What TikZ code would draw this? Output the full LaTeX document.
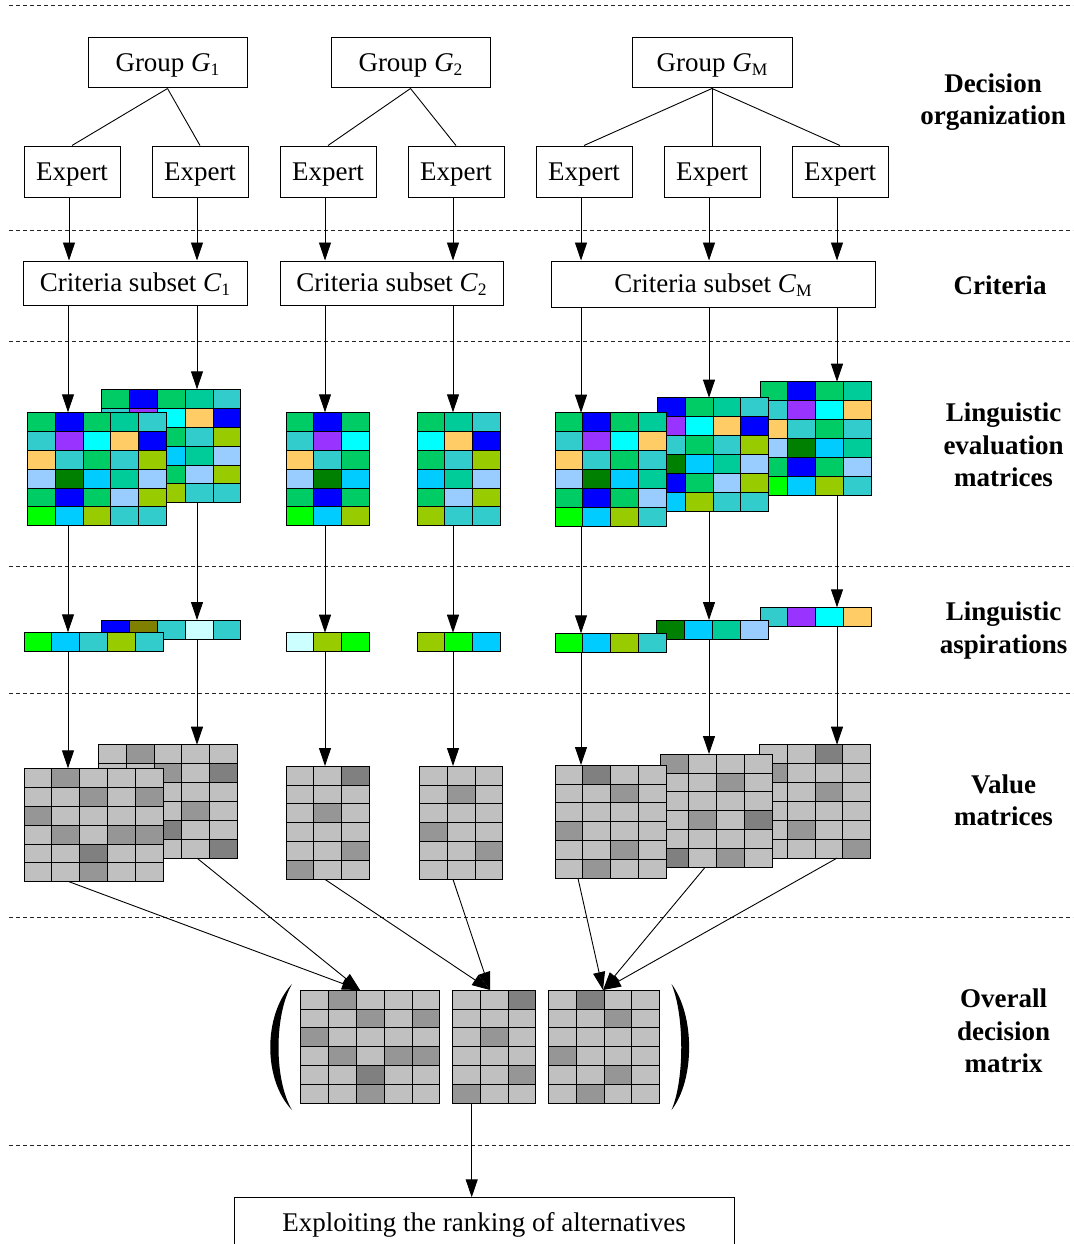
\documentclass[tikz,border=0pt]{standalone}
\usepackage{fontspec}
\setmainfont{Liberation Serif}
\usetikzlibrary{arrows.meta}
\definecolor{cG}{HTML}{00CC66}
\definecolor{cB}{HTML}{0000FF}
\definecolor{cT}{HTML}{00CC99}
\definecolor{cQ}{HTML}{33CCCC}
\definecolor{cP}{HTML}{9933FF}
\definecolor{cC}{HTML}{00FFFF}
\definecolor{cO}{HTML}{FFCC66}
\definecolor{cY}{HTML}{99CC00}
\definecolor{cL}{HTML}{99CCFF}
\definecolor{cD}{HTML}{008000}
\definecolor{cS}{HTML}{00CCFF}
\definecolor{cE}{HTML}{00FF00}
\definecolor{cV}{HTML}{808000}
\definecolor{cW}{HTML}{CCFFFF}
\definecolor{gL}{HTML}{C0C0C0}
\definecolor{gM}{HTML}{969696}
\definecolor{gD}{HTML}{808080}
\newcommand{\sbs}[1]{\raisebox{-0.3ex}{\fontsize{17.5}{17.5}\selectfont #1}}
\newcommand{\cgrid}[3]{%
  \foreach \myrow [count=\ri from 0] in {#3} {%
    \foreach \mycol [count=\ci from 0] in \myrow {%
      \filldraw[fill=\mycol, cellline] ({#1+\ci*27.8},{#2+\ri*18.9}) rectangle ++(27.8,18.9);
    }%
  }%
}
\tikzset{
  box/.style={draw, line width=1pt, inner sep=0pt, text height=17.8pt, text depth=0pt, font=\fontsize{27}{30}\selectfont},
  arr/.style={line width=0.9pt, -{Triangle[length=18pt,width=12pt]}},
  link/.style={line width=0.9pt},
  sep/.style={line width=0.8pt, dash pattern=on 4pt off 3pt, black!85},
  lab/.style={font=\fontsize{27}{32.5}\selectfont\bfseries, align=center},
  cellline/.style={draw=black, line width=0.8pt},
}
\begin{document}
\begin{tikzpicture}[x=1pt,y=-1pt]
\clip (0,0) rectangle (1073,1244);
\fill[white] (0,0) rectangle (1073,1244);
% separators
\foreach \yy in {5,230,341,566,693,917,1145} \draw[sep] (9,\yy) -- (1073,\yy);
% right labels
\node[lab] (l1) at (993,102) {Decision\\organization};
\node[lab] (l2) at (1000,285) {Criteria};
\node[lab] (l3) at (1003.5,445) {Linguistic\\evaluation\\matrices};
\node[lab] (l4) at (1003.5,630.5) {Linguistic\\aspirations};
\node[lab] (l5) at (1003.5,800.5) {Value\\matrices};
\node[lab] (l6) at (1003.5,1031) {Overall\\decision\\matrix};
% groups
\node[box, minimum width=159pt, minimum height=50pt] (g1) at (167.5,63) {Group \textit{G}\sbs{1}};
\node[box, minimum width=159pt, minimum height=50pt] (g2) at (410.5,63) {Group \textit{G}\sbs{2}};
\node[box, minimum width=160pt, minimum height=50pt] (g3) at (712,63) {Group \textit{G}\sbs{M}};
% experts
\foreach \i/\xx in {1/72,2/200,3/328,4/456,5/584,6/712,7/840}
  \node[box, minimum width=96pt, minimum height=51pt] (e\i) at (\xx,171.5) {Expert};
\draw[link] (g1.south) -- (e1.north);
\draw[link] (g1.south) -- (e2.north);
\draw[link] (g2.south) -- (e3.north);
\draw[link] (g2.south) -- (e4.north);
\draw[link] (g3.south) -- (e5.north);
\draw[link] (g3.south) -- (e6.north);
\draw[link] (g3.south) -- (e7.north);
% criteria
\node[box, minimum width=224pt, minimum height=44pt] (c1) at (135,283) {Criteria subset \textit{C}\sbs{1}};
\node[box, minimum width=223pt, minimum height=44pt] (c2) at (391.5,283) {Criteria subset \textit{C}\sbs{2}};
\node[box, minimum width=324pt, minimum height=46pt] (c3) at (713,284) {Criteria subset \textit{C}\sbs{M}};
\foreach \i/\c in {1/c1,2/c1,3/c2,4/c2,5/c3,6/c3,7/c3}
  \draw[arr] ([xshift=-3pt]e\i.south) -- ([xshift=-3pt]e\i.south |- \c.north);
% coordinates
\coordinate (m1t) at (68,412.3);  \coordinate (m1b) at (68,525.7);
\coordinate (m2t) at (197,389.3); \coordinate (m2b) at (197,502.7);
\coordinate (m3t) at (325,412.3); \coordinate (m3b) at (325,525.7);
\coordinate (m4t) at (453,412.3); \coordinate (m4b) at (453,525.7);
\coordinate (m5t) at (581,412.7); \coordinate (m5b) at (581,526.1);
\coordinate (m6t) at (709,397.7); \coordinate (m6b) at (709,511.1);
\coordinate (m7t) at (837,381.7); \coordinate (m7b) at (837,495.1);
\coordinate (a1t) at (68,632.3);  \coordinate (a1b) at (68,651.2);
\coordinate (a2t) at (197,620);   \coordinate (a2b) at (197,638.9);
\coordinate (a3t) at (325,632.7); \coordinate (a3b) at (325,651.6);
\coordinate (a4t) at (453,632.7); \coordinate (a4b) at (453,651.6);
\coordinate (a5t) at (581,633.3); \coordinate (a5b) at (581,652.2);
\coordinate (a6t) at (709,620);   \coordinate (a6b) at (709,638.9);
\coordinate (a7t) at (837,607.3); \coordinate (a7b) at (837,626.2);
\coordinate (v1t) at (68,768.3);  \coordinate (v1b) at (69,881.7);
\coordinate (v2t) at (197,744.7); \coordinate (v2b) at (197,858.1);
\coordinate (v3t) at (325,766);   \coordinate (v3b) at (325,879.4);
\coordinate (v4t) at (453,766);   \coordinate (v4b) at (453,879.4);
\coordinate (v5t) at (581,765);   \coordinate (v5b) at (578,878.4);
\coordinate (v6t) at (709,754);   \coordinate (v6b) at (705,867.4);
\coordinate (v7t) at (837,744.7); \coordinate (v7b) at (837,858.1);
\coordinate (o1) at (360,990);
\coordinate (o2) at (490,990);
\coordinate (o3) at (603,990);
\coordinate (ob) at (471.7,1103.4);
% linguistic evaluation matrices
\cgrid{101.7}{389.3}{{cG,cB,cG,cT,cQ},{cQ,cP,cC,cO,cB},{cO,cQ,cG,cQ,cY},{cL,cD,cS,cT,cL},{cG,cB,cG,cL,cY},{cE,cS,cY,cQ,cQ}}
\cgrid{27.3}{412.3}{{cG,cB,cG,cT,cQ},{cQ,cP,cC,cO,cB},{cO,cQ,cG,cQ,cY},{cL,cD,cS,cT,cL},{cG,cB,cG,cL,cY},{cE,cS,cY,cQ,cQ}}
\cgrid{286}{412.3}{{cG,cB,cG},{cQ,cP,cC},{cO,cQ,cG},{cL,cD,cS},{cG,cB,cG},{cE,cS,cY}}
\cgrid{417}{412.3}{{cG,cT,cQ},{cC,cO,cB},{cG,cQ,cY},{cS,cT,cL},{cG,cL,cY},{cY,cQ,cQ}}
\cgrid{760}{381.7}{{cG,cB,cG,cT},{cQ,cP,cC,cO},{cO,cQ,cG,cQ},{cL,cD,cS,cT},{cG,cB,cG,cL},{cE,cS,cY,cQ}}
\cgrid{657.3}{397.7}{{cB,cG,cT,cQ},{cP,cC,cO,cB},{cQ,cG,cQ,cY},{cD,cS,cT,cL},{cB,cG,cL,cY},{cS,cY,cQ,cQ}}
\cgrid{555}{412.7}{{cG,cB,cG,cT},{cQ,cP,cC,cO},{cO,cQ,cG,cQ},{cL,cD,cS,cT},{cG,cB,cG,cL},{cE,cS,cY,cQ}}
% aspirations
\cgrid{101.7}{620}{{cB,cV,cQ,cW,cQ}}
\cgrid{24}{632.3}{{cE,cS,cQ,cY,cQ}}
\cgrid{286}{632.7}{{cW,cY,cE}}
\cgrid{417}{632.7}{{cY,cE,cS}}
\cgrid{760}{607.3}{{cQ,cP,cC,cO}}
\cgrid{656.7}{620}{{cD,cS,cT,cL}}
\cgrid{555}{633.3}{{cE,cS,cY,cQ}}
% value matrices
\cgrid{98.3}{744.7}{{gL,gM,gL,gL,gL},{gL,gL,gM,gL,gD},{gL,gL,gL,gL,gL},{gL,gL,gL,gM,gL},{gL,gL,gD,gL,gL},{gL,gL,gL,gL,gD}}
\cgrid{24}{768.3}{{gL,gM,gL,gL,gL},{gL,gL,gM,gL,gM},{gM,gL,gL,gL,gL},{gL,gM,gL,gM,gM},{gL,gL,gD,gL,gL},{gL,gL,gM,gL,gL}}
\cgrid{286}{766}{{gL,gL,gD},{gL,gL,gL},{gL,gM,gL},{gL,gL,gL},{gL,gL,gM},{gM,gL,gL}}
\cgrid{419.3}{766}{{gL,gL,gL},{gL,gM,gL},{gL,gL,gL},{gM,gL,gL},{gL,gL,gM},{gL,gL,gL}}
\cgrid{759.3}{744.7}{{gL,gL,gD,gL},{gM,gL,gL,gL},{gL,gL,gM,gL},{gL,gL,gL,gL},{gL,gM,gL,gL},{gL,gL,gL,gM}}
\cgrid{660.7}{754}{{gM,gL,gL,gL},{gL,gL,gM,gL},{gL,gL,gL,gL},{gL,gM,gL,gD},{gL,gL,gL,gL},{gD,gL,gM,gL}}
\cgrid{555}{765}{{gL,gD,gL,gL},{gL,gL,gM,gL},{gL,gL,gL,gL},{gM,gL,gL,gL},{gL,gL,gM,gL},{gL,gM,gL,gL}}
% overall decision matrix
\cgrid{300.7}{990}{{gL,gM,gL,gL,gL},{gL,gL,gM,gL,gM},{gM,gL,gL,gL,gL},{gL,gM,gL,gM,gM},{gL,gL,gD,gL,gL},{gL,gL,gM,gL,gL}}
\cgrid{452.3}{990}{{gL,gL,gD},{gL,gL,gL},{gL,gM,gL},{gL,gL,gL},{gL,gL,gM},{gM,gL,gL}}
\cgrid{548.3}{990}{{gL,gD,gL,gL},{gL,gL,gM,gL},{gL,gL,gL,gL},{gM,gL,gL,gL},{gL,gL,gM,gL},{gL,gM,gL,gL}}
% parentheses
\fill (292,984) .. controls (263,1015) and (263,1080) .. (292,1110) .. controls (274,1080) and (274,1015) .. (292,984) -- cycle;
\fill (671.5,984) .. controls (695,1015) and (695,1080) .. (671.5,1110) .. controls (684.5,1080) and (684.5,1015) .. (671.5,984) -- cycle;
% connectors
\draw[arr] (c1.south -| m1t) -- (m1t);
\draw[arr] (c1.south -| m2t) -- (m2t);
\draw[arr] (c2.south -| m3t) -- (m3t);
\draw[arr] (c2.south -| m4t) -- (m4t);
\draw[arr] (c3.south -| m5t) -- (m5t);
\draw[arr] (c3.south -| m6t) -- (m6t);
\draw[arr] (c3.south -| m7t) -- (m7t);
\foreach \i in {1,...,7} {
  \draw[arr] (m\i b) -- (a\i t);
  \draw[arr] (a\i b) -- (v\i t);
}
\draw[arr] (v1b) -- (o1);
\draw[arr] (v2b) -- (o1);
\draw[arr] (v3b) -- (o2);
\draw[arr] (v4b) -- (o2);
\draw[arr] (v5b) -- (o3);
\draw[arr] (v6b) -- (o3);
\draw[arr] (v7b) -- (o3);
% final box
\node[box, minimum width=500pt, minimum height=49pt, anchor=north] (ex) at (484,1197.3) {Exploiting the ranking of alternatives};
\draw[arr] (ob) -- (ex.north -| ob);
\end{tikzpicture}
\end{document}
